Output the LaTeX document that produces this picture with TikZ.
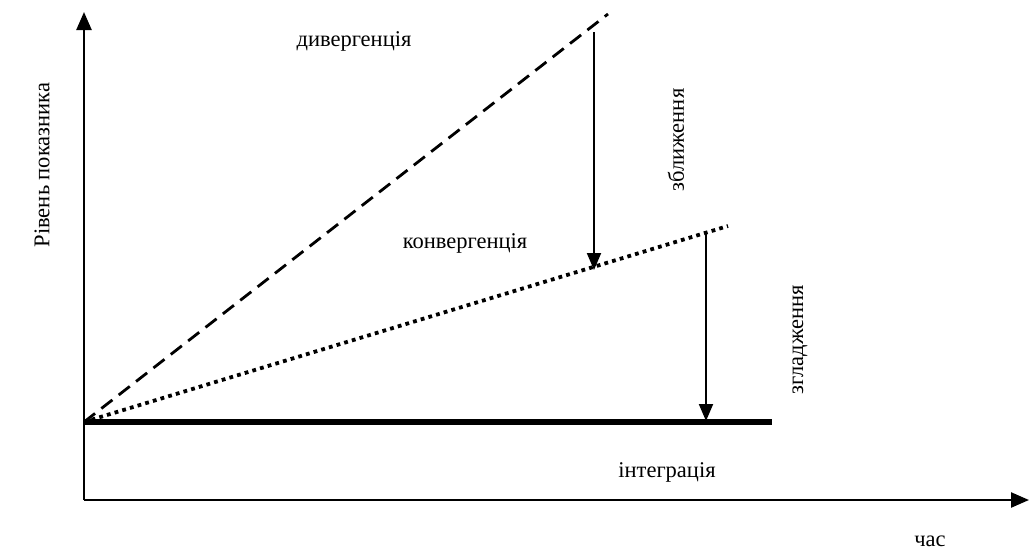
\documentclass[tikz,border=0pt]{standalone}
\usepackage{fontspec}
\setmainfont{Liberation Serif}
\usetikzlibrary{arrows.meta}

\begin{document}
\begin{tikzpicture}[x=1pt,y=-1pt,
  axis/.style={line width=2.4pt,-{Triangle[length=18pt,width=15pt]}},
  gap/.style={line width=2pt,-{Triangle[length=17pt,width=14pt]}},
  lbl/.style={font=\fontsize{22.5}{26}\selectfont}]
\useasboundingbox (0,0) rectangle (1029,552);
% axes
\coordinate (o) at (84,500);
\coordinate (ytop) at (84,12);
\coordinate (xend) at (1029,500);
\draw [axis] (o) -- (ytop);
\draw [axis] (o) -- (xend);
% lines from the common start
\coordinate (s) at (84,422);
\coordinate (div) at (608,14);
\coordinate (conv) at (728,226);
\coordinate (int) at (772,422);
\draw [line width=2.8pt,dash pattern=on 14pt off 8pt] (s) -- (div);
\draw [line width=3.8pt,dash pattern=on 3.8pt off 4.2pt] (s) -- (conv);
\draw [line width=5.5pt] (s) -- (int);
% gaps between the lines
\coordinate (a1) at (594,32);
\coordinate (b1) at (594,270);
\coordinate (a2) at (706,233);
\coordinate (b2) at (706,421);
\draw [gap] (a1) -- (b1);
\draw [gap] (a2) -- (b2);
% labels
\node [lbl] (ldiv) at (354,41) {дивергенція};
\node [lbl] (lconv) at (465,243) {конвергенція};
\node [lbl] (lint) at (667,472) {інтеграція};
\node [lbl] (ltime) at (930,541) {час};
\node [lbl,rotate=90] (lrate) at (42,165) {Рівень показника};
\node [lbl,rotate=90] (lclose) at (676,140) {зближення};
\node [lbl,rotate=90] (lsmooth) at (800,340) {згладження};
\end{tikzpicture}
\end{document}
